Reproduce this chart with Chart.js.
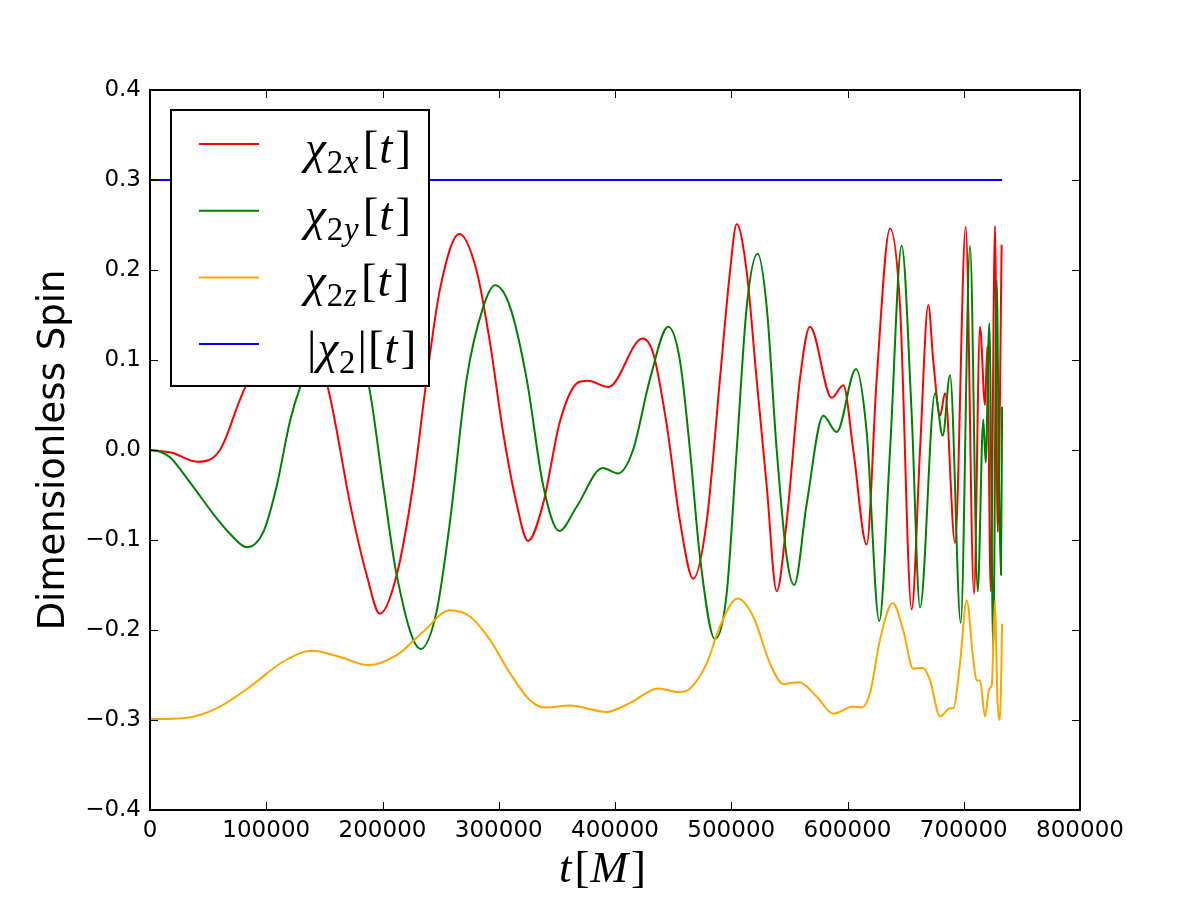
<!DOCTYPE html>
<html>
<head>
<meta charset="utf-8">
<script src="https://cdn.jsdelivr.net/npm/chart.js@4/dist/chart.umd.min.js"></script>
<style>
  html, body { margin: 0; padding: 0; background: #fff; }
  #wrap { width: 1200px; height: 900px; }
</style>
</head>
<body>
<div id="wrap"><canvas id="spin" width="1200" height="900"></canvas></div>
<script>
// values (t in units of M)
const tRed = [0, 18900, 40200, 60200, 77400, 81700, 127300, 153100, 159100, 172000, 186400, 197800,
  212200, 226200, 238000, 249500, 266100, 281000, 292500, 303700, 315400, 325200, 338100, 352700,
  368200, 376600, 394300, 423800, 433000, 444500, 455900, 467300, 478900, 490300, 498900, 504700,
  513300, 521800, 530500, 539100, 547700, 559100, 567700, 586400, 596400, 605000, 616500,
  625100, 636600, 645200, 655200, 662400, 669500, 673800, 679600, 683900, 692500, 701700, 708800,
  714000, 718300, 720300, 723200, 726900, 729200, 732600];
const vRed = [0, -0.003, -0.013, 0.0, 0.056, 0.069, 0.17, 0.069, 0.032, -0.059, -0.139, -0.182,
  -0.139, -0.04, 0.079, 0.179, 0.24, 0.199, 0.119, 0.02, -0.06, -0.101, -0.06, 0.032,
  0.075, 0.077, 0.07, 0.124, 0.107, 0.028, -0.079, -0.143, -0.079, 0.079, 0.198, 0.251,
  0.198, 0.079, -0.04, -0.157, -0.079, 0.079, 0.137, 0.058, 0.072, 0.0, -0.105,
  0.079, 0.246, 0.159, -0.177, 0.0, 0.161, 0.099, 0.038, 0.063, -0.103, 0.248, -0.16,
  0.137, 0.05, 0.115, -0.157, 0.249, -0.091, 0.228];

const tGreen = [0, 8600, 17200, 34400, 57400, 68800, 83200, 97500, 109000, 120400, 129000, 165200, 188600, 200700,
  212200, 232900, 246600, 258100, 272400, 286700, 296800, 309700, 324000, 338300, 352100, 367000,
  389400, 402600, 415500, 430100, 445800, 455900, 464500, 473100, 486000, 496100, 504700, 513300,
  522700, 530500, 539100, 547700, 554200, 564900, 579200, 590700, 607300, 616500, 627300, 636600,
  646600, 655200, 662400, 675300, 681900, 688200, 697400, 705400, 712000, 716800, 718900, 722000,
  725400, 728300, 730600, 732000, 733000];
const vGreen = [0, -0.002, -0.008, -0.036, -0.076, -0.093, -0.108, -0.091, -0.04, 0.032, 0.069, 0.17, 0.069, -0.04,
  -0.139, -0.221, -0.179, -0.079, 0.079, 0.159, 0.183, 0.159, 0.079, -0.04, -0.09, -0.063,
  -0.02, -0.026, 0.0, 0.079, 0.137, 0.099, 0.0, -0.119, -0.21, -0.159, 0.0, 0.159,
  0.218, 0.159, 0.0, -0.119, -0.15, -0.06, 0.038, 0.02, 0.09, 0.02, -0.19, 0.0,
  0.227, 0.04, -0.175, 0.063, 0.016, 0.083, -0.192, 0.227, -0.157, 0.034, -0.014, 0.141,
  -0.222, 0.189, -0.06, -0.139, 0.048];

const tOrange = [0, 28600, 57400, 86000, 114700, 139600, 163400, 187800, 212200, 235000, 258100, 275300,
  292500, 309700, 326900, 339800, 361300, 392800, 412900, 437200, 454400, 464500, 478900, 490300,
  505400, 518900, 533300, 544800, 558500, 573500, 587800, 605000, 612200, 619400, 627900, 638900,
  647900, 656500, 664700, 671000, 679600, 688200, 691000, 696800, 702500, 708200, 711100, 714000,
  718300, 722000, 724100, 726900, 728800, 731200, 733000];
const vOrange = [-0.299, -0.298, -0.287, -0.263, -0.235, -0.223, -0.23, -0.239, -0.228, -0.202, -0.178, -0.185,
  -0.211, -0.248, -0.278, -0.286, -0.284, -0.291, -0.281, -0.265, -0.269, -0.265, -0.237, -0.196,
  -0.165, -0.185, -0.237, -0.26, -0.258, -0.274, -0.293, -0.285, -0.286, -0.27, -0.211, -0.17,
  -0.2, -0.243, -0.242, -0.256, -0.296, -0.287, -0.287, -0.237, -0.167, -0.233, -0.256, -0.256,
  -0.296, -0.265, -0.261, -0.167, -0.27, -0.3, -0.193];

const tBlue = [0, 733000];
const vBlue = [0.3, 0.3];

const xTicks = [0, 100000, 200000, 300000, 400000, 500000, 600000, 700000, 800000];
const yTicks = [-0.4, -0.3, -0.2, -0.1, 0.0, 0.1, 0.2, 0.3, 0.4];

// legend labels split as [base, subscript, tail]
const legendParts = [
  ['\u03c7', '2x', '[t]'],
  ['\u03c7', '2y', '[t]'],
  ['\u03c7', '2z', '[t]'],
  ['|\u03c7', '2', '|[t]'],
];

const pts = (ts, vs) => ts.map((t, i) => ({ x: t, y: vs[i] }));

const mathFont = (size, italic) => (italic ? 'italic ' : '') + size + 'px "Liberation Serif", "DejaVu Serif", serif';

// letters italic, brackets/digits/bars upright (like mathtext)
function drawMath(ctx, str, x, y, size) {
  for (const ch of str) {
    const upright = /[\[\]|0-9]/.test(ch);
    ctx.font = mathFont(size, !upright);
    ctx.fillText(ch, x, y);
    x += ctx.measureText(ch).width + (upright ? 1 : 3);
  }
  return x;
}

function mathWidth(ctx, str, size) {
  let w = 0;
  for (const ch of str) {
    const upright = /[\[\]|0-9]/.test(ch);
    ctx.font = mathFont(size, !upright);
    w += ctx.measureText(ch).width + (upright ? 1 : 3);
  }
  return w;
}

const legendBox = {
  id: 'legendBox',
  afterDatasetsDraw(chart) {
    const { ctx, chartArea: a } = chart;
    const left = a.left + 21, top = a.top + 20, w = 258, h = 276;
    ctx.save();
    ctx.fillStyle = '#fff';
    ctx.fillRect(left, top, w, h);
    ctx.lineWidth = 2;
    ctx.strokeStyle = '#000';
    ctx.strokeRect(left, top, w, h);
    chart.data.datasets.forEach((ds, i) => {
      const rowY = top + 34 + i * 66.7;
      ctx.strokeStyle = ds.borderColor;
      ctx.lineWidth = 2;
      ctx.beginPath();
      ctx.moveTo(left + 28, rowY);
      ctx.lineTo(left + 88, rowY);
      ctx.stroke();
      const [base, sub, tail] = legendParts[i];
      ctx.fillStyle = '#000';
      ctx.textBaseline = 'alphabetic';
      ctx.textAlign = 'left';
      const size = 47;
      let x = left + (i === 3 ? 136 : 134);
      const baseY = rowY + 19;
      x = drawMath(ctx, base, x, baseY, size);
      x = drawMath(ctx, sub, x - 2, baseY + 10, size * 0.7);
      drawMath(ctx, tail, x + 1, baseY, size);
    });
    ctx.restore();
  },
};

const frameAndTicks = {
  id: 'frameAndTicks',
  afterDraw(chart) {
    const { ctx, chartArea: a, scales } = chart;
    ctx.save();
    ctx.strokeStyle = '#000';
    ctx.lineWidth = 1;
    const len = 8;
    xTicks.forEach(v => {
      const px = Math.round(scales.x.getPixelForValue(v)) + 0.5;
      ctx.beginPath();
      ctx.moveTo(px, a.bottom); ctx.lineTo(px, a.bottom - len);
      ctx.moveTo(px, a.top); ctx.lineTo(px, a.top + len);
      ctx.stroke();
    });
    yTicks.forEach(v => {
      const py = Math.round(scales.y.getPixelForValue(v)) + 0.5;
      ctx.beginPath();
      ctx.moveTo(a.left, py); ctx.lineTo(a.left + len, py);
      ctx.moveTo(a.right, py); ctx.lineTo(a.right - len, py);
      ctx.stroke();
    });
    ctx.lineWidth = 2;
    ctx.strokeRect(a.left, a.top, a.right - a.left, a.bottom - a.top);

    // axis titles
    ctx.fillStyle = '#000';
    ctx.textAlign = 'center';
    ctx.textBaseline = 'middle';
    ctx.save();
    ctx.translate(a.left - 96, (a.top + a.bottom) / 2);
    ctx.rotate(-Math.PI / 2);
    ctx.font = '37px "DejaVu Sans"';
    ctx.fillText('Dimensionless Spin', 0, 0);
    ctx.restore();

    ctx.textAlign = 'left';
    ctx.textBaseline = 'alphabetic';
    const w = mathWidth(ctx, 't[M]', 45);
    drawMath(ctx, 't[M]', (a.left + a.right) / 2 - w / 2 - 12, a.bottom + 72, 45);
    ctx.restore();
  },
};

const line = (label, ts, vs, color, order) => ({
  label,
  data: pts(ts, vs),
  borderColor: color,
  backgroundColor: color,
  borderWidth: 2,
  pointRadius: 0,
  fill: false,
  cubicInterpolationMode: 'monotone',
  order,
});

new Chart(document.getElementById('spin'), {
  type: 'line',
  data: {
    datasets: [
      line('\u03c72x[t]', tRed, vRed, '#ff0000', 4),
      line('\u03c72y[t]', tGreen, vGreen, '#008000', 3),
      line('\u03c72z[t]', tOrange, vOrange, '#ffa500', 2),
      line('|\u03c72|[t]', tBlue, vBlue, '#0000ff', 1),
    ],
  },
  options: {
    responsive: false,
    animation: false,
    devicePixelRatio: 1,
    layout: { padding: { top: 90, right: 120, left: 0, bottom: 0 } },
    plugins: { legend: { display: false }, tooltip: { enabled: false } },
    scales: {
      x: {
        type: 'linear',
        min: 0,
        max: 800000,
        afterFit(scale) { scale.height = 90; },
        afterBuildTicks(scale) { scale.ticks = xTicks.map(v => ({ value: v })); },
        grid: { display: false, drawTicks: false },
        border: { display: false },
        ticks: {
          padding: 7,
          color: '#000',
          font: { family: 'DejaVu Sans', size: 23 },
          maxRotation: 0,
          autoSkip: false,
          callback: v => String(v),
        },
      },
      y: {
        min: -0.4,
        max: 0.4,
        afterFit(scale) { scale.width = 150; },
        afterBuildTicks(scale) { scale.ticks = yTicks.map(v => ({ value: v })); },
        grid: { display: false, drawTicks: false },
        border: { display: false },
        ticks: {
          padding: 9,
          color: '#000',
          font: { family: 'DejaVu Sans', size: 23 },
          autoSkip: false,
          callback: v => (Math.abs(v) < 1e-9 ? '0.0' : v.toFixed(1).replace('-', '\u2212')),
        },
      },
    },
  },
  plugins: [legendBox, frameAndTicks],
});
</script>
</body>
</html>
